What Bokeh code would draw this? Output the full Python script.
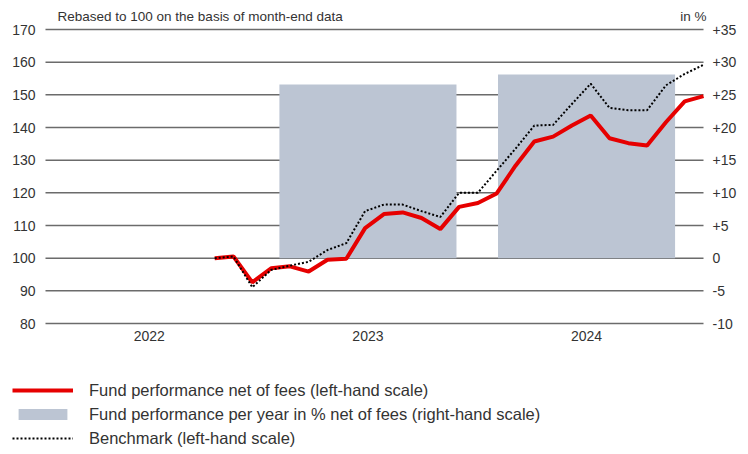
from bokeh.plotting import figure
from bokeh.models import Range1d, Legend, LegendItem
from bokeh.core.properties import value
from bokeh.embed import file_html
from bokeh.resources import INLINE

# ---------------- data ----------------
months = ["2022-10", "2022-11", "2022-12",
          "2023-01", "2023-02", "2023-03", "2023-04", "2023-05", "2023-06",
          "2023-07", "2023-08", "2023-09", "2023-10", "2023-11", "2023-12",
          "2024-01", "2024-02", "2024-03", "2024-04", "2024-05", "2024-06",
          "2024-07", "2024-08", "2024-09", "2024-10", "2024-11", "2024-12"]
fund = [100.0, 100.5, 92.6,
        96.9, 97.5, 95.9, 99.5, 99.8, 109.2,
        113.5, 114.0, 112.3, 108.9, 115.7, 116.9,
        119.8, 128.3, 135.7, 137.2, 140.6, 143.7,
        136.7, 135.2, 134.5, 141.6, 148.0, 149.6]
benchmark = [100.0, 100.5, 91.1,
             96.4, 97.7, 98.9, 102.5, 104.6, 114.4,
             116.4, 116.4, 114.4, 112.6, 120.0, 120.0,
             126.8, 133.5, 140.6, 140.8, 147.2, 153.4,
             146.0, 145.3, 145.3, 152.9, 156.4, 159.2]
axis_first_month = "2022-01"
axis_last_month = "2024-12"
years = [2022, 2023, 2024]
bar_years = [2023, 2024]
bar_perf = [26.6, 28.1]
left_ticks = [80, 90, 100, 110, 120, 130, 140, 150, 160, 170]
right_ticks = [-10, -5, 0, 5, 10, 15, 20, 25, 30, 35]

legend_labels = ["Fund performance net of fees (left-hand scale)",
                 "Fund performance per year in % net of fees (right-hand scale)",
                 "Benchmark (left-hand scale)"]
title_text = "Rebased to 100 on the basis of month-end data"
unit_text = "in %"

# ---------------- layout / style ----------------
W, H = 748, 454
PLOT_L, PLOT_R, PLOT_T, PLOT_B = 45, 703, 29, 323   # plotting area in pixels
YEAR_LO, YEAR_HI = 2021.525, 2024.535                # year scale across plotting area
FONT = "Liberation Sans"
TEXT = "#333333"
RED = "#e60000"
GREY = "#bcc5d3"
GRID = "#6b6b6b"


def month_index(s):
    y, m = s.split("-")
    return (int(y) - 2022) * 12 + int(m) - 1


x = [month_index(m) for m in months]
x_lo, x_hi = month_index(axis_first_month), month_index(axis_last_month)
y_lo, y_hi = left_ticks[0], left_ticks[-1]


def pct_of(v):
    return (v - 100) / 2.0


def extend(lo, hi, p_lo, p_hi, full_lo, full_hi):
    """Extend a data interval mapped on pixels [p_lo, p_hi] to pixels [full_lo, full_hi]."""
    k = (hi - lo) / (p_hi - p_lo)
    return lo - (p_lo - full_lo) * k, hi + (full_hi - p_hi) * k


xr = extend(x_lo, x_hi, PLOT_L, PLOT_R, 0, W)
yrs = extend(YEAR_LO, YEAR_HI, PLOT_L, PLOT_R, 0, W)
# y: pixel axis points down, so map top/bottom explicitly
ky = (y_hi - y_lo) / (PLOT_B - PLOT_T)
yr = (y_lo - (H - PLOT_B) * ky, y_hi + PLOT_T * ky)

p = figure(width=W, height=H, output_backend="svg", toolbar_location=None,
           x_range=Range1d(*xr), y_range=Range1d(*yr),
           x_axis_type=None, y_axis_type=None, min_border=0)
p.extra_x_ranges = {"years": Range1d(*yrs)}
p.extra_y_ranges = {"pct": Range1d(pct_of(yr[0]), pct_of(yr[1]))}
p.outline_line_color = None
p.background_fill_color = "white"
p.border_fill_color = "white"
p.xgrid.visible = False
p.ygrid.visible = False

# horizontal grid lines at the left-scale ticks
p.segment(x0=[x_lo] * len(left_ticks), x1=[x_hi] * len(left_ticks),
          y0=left_ticks, y1=left_ticks, line_color=GRID, line_width=1.5)

# yearly performance bars (right-hand scale)
bars = p.vbar(x=bar_years, top=bar_perf, bottom=0, width=0.81,
              x_range_name="years", y_range_name="pct",
              fill_color=GREY, line_color=None)
# lines (left-hand scale)
fund_r = p.line(x, fund, line_color=RED, line_width=4)
bench_r = p.line(x, benchmark, line_color="black", line_width=2, line_dash="2 2")

tick_font = dict(text_font=value(FONT), text_font_size="14px", text_color=TEXT,
                 text_baseline="middle")
# left tick labels
p.text(x=[x_lo] * len(left_ticks), y=left_ticks, text=[str(t) for t in left_ticks],
       x_offset=-10, text_align="right", **tick_font)
# right tick labels
p.text(x=[x_hi] * len(right_ticks), y=right_ticks,
       text=[("+%d" % t) if t > 0 else str(t) for t in right_ticks],
       x_offset=9, text_align="left", y_range_name="pct", **tick_font)
# year labels
p.text(x=years, y=[y_lo] * len(years), text=[str(yv) for yv in years],
       y_offset=7, text_align="center", x_range_name="years",
       text_font=value(FONT), text_font_size="14px", text_color=TEXT, text_baseline="top")
# header texts
p.text(x=[x_lo], y=[y_hi], text=[title_text], x_offset=12, y_offset=-13,
       text_align="left", text_font=value(FONT), text_font_size="13.5px",
       text_color=TEXT, text_baseline="middle")
p.text(x=[x_hi], y=[y_hi], text=[unit_text], x_offset=3, y_offset=-13,
       text_align="right", text_font=value(FONT), text_font_size="13.5px",
       text_color=TEXT, text_baseline="middle")

legend = Legend(items=[LegendItem(label=legend_labels[0], renderers=[fund_r]),
                       LegendItem(label=legend_labels[1], renderers=[bars]),
                       LegendItem(label=legend_labels[2], renderers=[bench_r])],
                location=(12, 6), orientation="vertical",
                glyph_width=61, glyph_height=14, label_height=20, label_standoff=16,
                label_text_font=FONT, label_text_font_size="16.5px", label_text_color=TEXT,
                spacing=4, padding=0, margin=0,
                border_line_color=None, background_fill_alpha=0)
p.add_layout(legend)

open("out.html", "w").write(file_html(p, INLINE))
